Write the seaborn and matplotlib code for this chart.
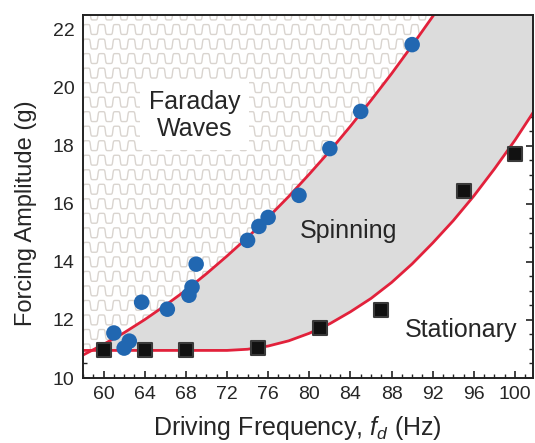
import numpy as np
import pandas as pd
import matplotlib
matplotlib.use('Agg')
import matplotlib.pyplot as plt
import seaborn as sns
from matplotlib.collections import LineCollection
from matplotlib.patches import Polygon
from matplotlib.ticker import MultipleLocator

sns.set_style('ticks')
plt.rcParams['font.family'] = ['Liberation Sans', 'DejaVu Sans']
plt.rcParams['mathtext.fontset'] = 'custom'
plt.rcParams['mathtext.rm'] = 'Liberation Sans'
plt.rcParams['mathtext.it'] = 'Liberation Sans:italic'

# spinning onset (blue circles)
spin_freq = [61.0, 62.0, 62.5, 63.7, 66.2, 68.3, 68.6, 69.0, 74.0, 75.1, 76.0, 79.0, 82.0, 85.0, 90.0]
spin_amp = [11.55, 11.03, 11.27, 12.61, 12.37, 12.85, 13.13, 13.92, 14.74, 15.22, 15.53, 16.29, 17.90, 19.18, 21.48]

# stationary limit (black squares)
stat_freq = [60, 64, 68, 75, 81, 87, 95, 100]
stat_amp = [10.96, 10.96, 10.96, 11.03, 11.72, 12.34, 16.43, 17.73]

# boundary curves
upper_freq = [58, 60, 62, 64, 66, 68, 70, 72, 74, 76, 78, 80, 82, 84, 86, 88, 90, 92, 94]
upper_amp = [10.79, 11.16, 11.56, 12.01, 12.50, 13.02, 13.59, 14.20, 14.84, 15.53, 16.25,
             17.02, 17.82, 18.67, 19.56, 20.48, 21.45, 22.45, 23.49]
lower_freq = [58, 60, 62, 64, 66, 68, 70, 72, 74, 76, 78, 80, 82, 84, 86, 88, 90, 92, 94,
              96, 98, 100, 102]
lower_amp = [10.95, 10.95, 10.95, 10.95, 10.95, 10.95, 10.95, 10.95, 10.99, 11.10, 11.28,
             11.54, 11.87, 12.28, 12.74, 13.29, 13.93, 14.65, 15.42, 16.27, 17.20, 18.19, 19.27]

spin_df = pd.DataFrame({'freq': spin_freq, 'amp': spin_amp})
stat_df = pd.DataFrame({'freq': stat_freq, 'amp': stat_amp})

fig = plt.figure(figsize=(5.35, 4.43), dpi=100)
ax = fig.add_axes([83 / 535, 1 - 378 / 443, (533 - 83) / 535, (378 - 15) / 443])

xmin, xmax, ymin, ymax = 58, 101.75, 10, 22.5
top = 24

# gray spinning region
ax.fill_between(lower_freq, lower_amp, top, color='#dcdcdc', lw=0, zorder=1)

# faraday region: white with wavy pattern
verts = list(zip(upper_freq, upper_amp)) + [(upper_freq[-1], top), (xmin - 1, top), (xmin - 1, upper_amp[0])]
faraday = Polygon(verts, closed=True, facecolor='white', edgecolor='none', zorder=1.5)
ax.add_patch(faraday)

period, half_amp = 1.45, 0.17
xs = np.linspace(xmin - 1, xmax + 1, 2500)
segs = []
for y0 in np.arange(ymin, top, 0.5):
    ys = y0 + half_amp * np.tanh(4 * np.sin(2 * np.pi * (xs - xmin) / period)) / np.tanh(4)
    segs.append(np.column_stack([xs, ys]))
waves = LineCollection(segs, colors='#d9d4cf', linewidths=1.0, zorder=1.6)
ax.add_collection(waves)
waves.set_clip_path(faraday)

red = '#e2213b'
sns.lineplot(x=upper_freq, y=upper_amp, color=red, lw=2, sort=False, estimator=None, ax=ax, zorder=3)
sns.lineplot(x=lower_freq, y=lower_amp, color=red, lw=2, sort=False, estimator=None, ax=ax, zorder=3)

sns.scatterplot(data=spin_df, x='freq', y='amp', s=125, color='#2167b1', edgecolor='none', ax=ax, zorder=4)
sns.scatterplot(data=stat_df, x='freq', y='amp', marker='s', s=90, color='#111111',
                edgecolor='#3a3a3a', linewidth=1.5, ax=ax, zorder=4)

txt_color = '#262626'
ax.text(68.86, 19.04, 'Faraday\nWaves', ha='center', va='center', fontsize=18, color=txt_color,
        linespacing=1.15, zorder=5,
        bbox=dict(facecolor='white', edgecolor='none', boxstyle='square,pad=0.35'))
ax.text(83.83, 15.05, 'Spinning', ha='center', va='center', fontsize=18, color=txt_color, zorder=5)
ax.text(94.8, 11.65, 'Stationary', ha='center', va='center', fontsize=18, color=txt_color, zorder=5)

ax.set_xlim(xmin, xmax)
ax.set_ylim(ymin, ymax)
ax.xaxis.set_major_locator(MultipleLocator(4))
ax.xaxis.set_minor_locator(MultipleLocator(1))
ax.yaxis.set_major_locator(MultipleLocator(2))
ax.yaxis.set_minor_locator(MultipleLocator(0.5))
ax.tick_params(which='both', direction='in', top=True, right=True, colors='#222222',
               labelcolor=txt_color, labelsize=14)
ax.tick_params(which='major', length=5, width=1.2, pad=6)
ax.tick_params(which='minor', length=3, width=1.0)
for sp in ax.spines.values():
    sp.set_linewidth(1.4)
    sp.set_color('#222222')
    sp.set_zorder(6)

ax.set_xlabel('Driving Frequency, $f_d$ (Hz)', fontsize=18, color=txt_color)
ax.set_ylabel('Forcing Amplitude (g)', fontsize=17, color=txt_color)
ax.xaxis.set_label_coords(0.476, -0.1)
ax.yaxis.set_label_coords(-0.102, 0.4545)

fig.savefig('out.png', dpi=100)
